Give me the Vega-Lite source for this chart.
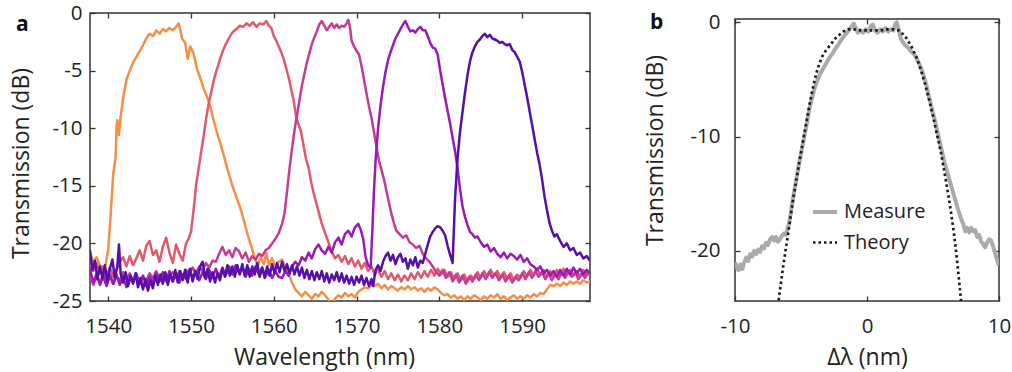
{
"$schema": "https://vega.github.io/schema/vega-lite/v6.json",
"padding": {"left": 10, "top": 2, "right": 0, "bottom": 0},
"background": "white",
"config": {
 "font": "Open Sans",
 "view": {"stroke": "#333333", "strokeWidth": 1.5},
 "axis": {"domain": false, "grid": false, "tickColor": "#333333", "tickWidth": 1.3, "tickSize": -5, "labelFont": "Open Sans", "labelFontSize": 20.5, "labelColor": "#222222", "labelFlush": false, "labelOverlap": false, "titleFont": "Open Sans", "titleFontSize": 23, "titleFontWeight": "normal", "titleColor": "#222222"},
 "title": {"font": "Open Sans", "fontSize": 21, "fontWeight": "bold", "color": "#111111"}
},
"datasets": {
"spec": [
{"s":1,"x":1537.8,"y":-20.8},{"s":1,"x":1538.2,"y":-21.6},{"s":1,"x":1538.6,"y":-21.2},{"s":1,"x":1539.0,"y":-21.9},{"s":1,"x":1539.4,"y":-22.1},{"s":1,"x":1539.7,"y":-21.8},{"s":1,"x":1540.0,"y":-20.5},{"s":1,"x":1540.3,"y":-17.5},{"s":1,"x":1540.6,"y":-14.0},{"s":1,"x":1540.9,"y":-12.5},{"s":1,"x":1541.0,"y":-10.0},{"s":1,"x":1541.1,"y":-9.3},{"s":1,"x":1541.3,"y":-10.6},{"s":1,"x":1541.5,"y":-9.0},{"s":1,"x":1541.8,"y":-7.4},{"s":1,"x":1542.2,"y":-5.8},{"s":1,"x":1542.6,"y":-5.0},{"s":1,"x":1543.0,"y":-4.3},{"s":1,"x":1543.4,"y":-3.8},{"s":1,"x":1543.8,"y":-3.3},{"s":1,"x":1544.2,"y":-2.8},{"s":1,"x":1544.6,"y":-2.2},{"s":1,"x":1545.0,"y":-1.8},{"s":1,"x":1545.4,"y":-2.0},{"s":1,"x":1545.8,"y":-1.5},{"s":1,"x":1546.2,"y":-1.8},{"s":1,"x":1546.6,"y":-1.4},{"s":1,"x":1547.0,"y":-1.6},{"s":1,"x":1547.4,"y":-1.3},{"s":1,"x":1547.8,"y":-1.5},{"s":1,"x":1548.2,"y":-1.2},{"s":1,"x":1548.5,"y":-0.9},{"s":1,"x":1548.7,"y":-1.4},{"s":1,"x":1548.9,"y":-2.2},{"s":1,"x":1549.3,"y":-2.6},{"s":1,"x":1549.6,"y":-4.0},{"s":1,"x":1549.9,"y":-2.9},{"s":1,"x":1550.3,"y":-3.5},{"s":1,"x":1550.7,"y":-4.8},{"s":1,"x":1551.1,"y":-5.6},{"s":1,"x":1551.5,"y":-6.5},{"s":1,"x":1551.9,"y":-7.2},{"s":1,"x":1552.3,"y":-8.0},{"s":1,"x":1552.7,"y":-9.2},{"s":1,"x":1553.1,"y":-10.3},{"s":1,"x":1553.5,"y":-11.2},{"s":1,"x":1553.9,"y":-12.2},{"s":1,"x":1554.3,"y":-13.3},{"s":1,"x":1554.7,"y":-14.3},{"s":1,"x":1555.1,"y":-15.2},{"s":1,"x":1555.5,"y":-16.0},{"s":1,"x":1555.9,"y":-16.8},{"s":1,"x":1556.2,"y":-17.5},{"s":1,"x":1556.6,"y":-18.6},{"s":1,"x":1557.0,"y":-19.6},{"s":1,"x":1557.4,"y":-20.5},{"s":1,"x":1557.8,"y":-21.5},{"s":1,"x":1558.1,"y":-21.9},{"s":1,"x":1558.4,"y":-21.2},{"s":1,"x":1558.8,"y":-21.8},{"s":1,"x":1559.1,"y":-20.8},{"s":1,"x":1559.4,"y":-21.9},{"s":1,"x":1559.8,"y":-21.3},{"s":1,"x":1560.2,"y":-22.0},{"s":1,"x":1560.6,"y":-21.6},{"s":1,"x":1561.0,"y":-21.4},{"s":1,"x":1561.4,"y":-22.1},{"s":1,"x":1561.8,"y":-22.6},{"s":1,"x":1562.2,"y":-23.4},{"s":1,"x":1562.6,"y":-24.0},{"s":1,"x":1563.0,"y":-24.3},{"s":1,"x":1563.4,"y":-24.6},{"s":1,"x":1563.8,"y":-24.2},{"s":1,"x":1564.2,"y":-24.5},{"s":1,"x":1564.6,"y":-24.8},{"s":1,"x":1565.0,"y":-24.4},{"s":1,"x":1565.4,"y":-24.6},{"s":1,"x":1565.8,"y":-24.2},{"s":1,"x":1566.2,"y":-24.5},{"s":1,"x":1566.6,"y":-24.9},{"s":1,"x":1567.0,"y":-25.3},{"s":1,"x":1567.4,"y":-24.8},{"s":1,"x":1567.8,"y":-24.5},{"s":1,"x":1568.2,"y":-24.7},{"s":1,"x":1568.6,"y":-24.3},{"s":1,"x":1569.0,"y":-24.6},{"s":1,"x":1569.4,"y":-24.4},{"s":1,"x":1569.8,"y":-24.7},{"s":1,"x":1570.2,"y":-24.2},{"s":1,"x":1570.6,"y":-24.0},{"s":1,"x":1571.0,"y":-23.8},{"s":1,"x":1571.4,"y":-23.9},{"s":1,"x":1571.8,"y":-23.6},{"s":1,"x":1572.2,"y":-23.7},{"s":1,"x":1572.6,"y":-23.5},{"s":1,"x":1573.0,"y":-23.9},{"s":1,"x":1573.4,"y":-23.6},{"s":1,"x":1573.8,"y":-24.0},{"s":1,"x":1574.2,"y":-23.7},{"s":1,"x":1574.6,"y":-23.9},{"s":1,"x":1575.0,"y":-24.1},{"s":1,"x":1575.4,"y":-23.8},{"s":1,"x":1575.8,"y":-24.0},{"s":1,"x":1576.2,"y":-23.7},{"s":1,"x":1576.6,"y":-24.0},{"s":1,"x":1577.0,"y":-23.8},{"s":1,"x":1577.4,"y":-24.1},{"s":1,"x":1577.8,"y":-23.9},{"s":1,"x":1578.2,"y":-24.2},{"s":1,"x":1578.6,"y":-23.9},{"s":1,"x":1579.0,"y":-24.1},{"s":1,"x":1579.4,"y":-23.8},{"s":1,"x":1579.8,"y":-24.0},{"s":1,"x":1580.2,"y":-24.3},{"s":1,"x":1580.6,"y":-24.5},{"s":1,"x":1581.0,"y":-24.4},{"s":1,"x":1581.4,"y":-24.7},{"s":1,"x":1581.8,"y":-24.5},{"s":1,"x":1582.2,"y":-24.8},{"s":1,"x":1582.6,"y":-24.6},{"s":1,"x":1583.0,"y":-24.9},{"s":1,"x":1583.4,"y":-24.6},{"s":1,"x":1583.8,"y":-24.8},{"s":1,"x":1584.2,"y":-24.5},{"s":1,"x":1584.6,"y":-24.7},{"s":1,"x":1585.0,"y":-24.9},{"s":1,"x":1585.4,"y":-24.6},{"s":1,"x":1585.8,"y":-24.8},{"s":1,"x":1586.2,"y":-24.5},{"s":1,"x":1586.6,"y":-24.7},{"s":1,"x":1587.0,"y":-24.4},{"s":1,"x":1587.4,"y":-24.8},{"s":1,"x":1587.8,"y":-24.6},{"s":1,"x":1588.2,"y":-24.9},{"s":1,"x":1588.6,"y":-24.7},{"s":1,"x":1589.0,"y":-24.5},{"s":1,"x":1589.4,"y":-24.8},{"s":1,"x":1589.8,"y":-24.6},{"s":1,"x":1590.2,"y":-24.8},{"s":1,"x":1590.6,"y":-24.5},{"s":1,"x":1591.0,"y":-24.7},{"s":1,"x":1591.4,"y":-24.4},{"s":1,"x":1591.8,"y":-24.6},{"s":1,"x":1592.2,"y":-24.3},{"s":1,"x":1592.6,"y":-24.4},{"s":1,"x":1593.0,"y":-24.0},{"s":1,"x":1593.4,"y":-23.6},{"s":1,"x":1593.8,"y":-23.7},{"s":1,"x":1594.2,"y":-23.5},{"s":1,"x":1594.6,"y":-23.7},{"s":1,"x":1595.0,"y":-23.4},{"s":1,"x":1595.4,"y":-23.6},{"s":1,"x":1595.8,"y":-23.3},{"s":1,"x":1596.2,"y":-23.5},{"s":1,"x":1596.6,"y":-23.3},{"s":1,"x":1597.0,"y":-23.5},{"s":1,"x":1597.4,"y":-23.2},{"s":1,"x":1597.8,"y":-23.4},{"s":1,"x":1598.2,"y":-23.3},
{"s":2,"x":1537.8,"y":-21.8},{"s":2,"x":1538.2,"y":-22.4},{"s":2,"x":1538.6,"y":-21.7},{"s":2,"x":1539.0,"y":-22.6},{"s":2,"x":1539.4,"y":-22.0},{"s":2,"x":1539.8,"y":-22.8},{"s":2,"x":1540.2,"y":-22.1},{"s":2,"x":1540.6,"y":-22.9},{"s":2,"x":1541.0,"y":-22.3},{"s":2,"x":1541.4,"y":-21.6},{"s":2,"x":1541.8,"y":-21.2},{"s":2,"x":1542.2,"y":-22.0},{"s":2,"x":1542.6,"y":-21.1},{"s":2,"x":1543.0,"y":-21.9},{"s":2,"x":1543.4,"y":-21.3},{"s":2,"x":1543.8,"y":-20.6},{"s":2,"x":1544.2,"y":-21.5},{"s":2,"x":1544.6,"y":-20.2},{"s":2,"x":1545.0,"y":-19.8},{"s":2,"x":1545.4,"y":-21.0},{"s":2,"x":1545.8,"y":-20.6},{"s":2,"x":1546.2,"y":-21.6},{"s":2,"x":1546.6,"y":-20.3},{"s":2,"x":1547.0,"y":-19.5},{"s":2,"x":1547.4,"y":-20.8},{"s":2,"x":1547.8,"y":-21.7},{"s":2,"x":1548.2,"y":-20.1},{"s":2,"x":1548.6,"y":-20.9},{"s":2,"x":1549.0,"y":-21.5},{"s":2,"x":1549.4,"y":-20.0},{"s":2,"x":1549.7,"y":-19.6},{"s":2,"x":1550.0,"y":-19.0},{"s":2,"x":1550.3,"y":-17.2},{"s":2,"x":1550.6,"y":-15.0},{"s":2,"x":1550.9,"y":-13.6},{"s":2,"x":1551.2,"y":-12.2},{"s":2,"x":1551.5,"y":-10.8},{"s":2,"x":1551.8,"y":-9.3},{"s":2,"x":1552.1,"y":-8.0},{"s":2,"x":1552.4,"y":-7.0},{"s":2,"x":1552.7,"y":-6.0},{"s":2,"x":1553.0,"y":-5.2},{"s":2,"x":1553.3,"y":-4.5},{"s":2,"x":1553.6,"y":-3.8},{"s":2,"x":1553.9,"y":-3.2},{"s":2,"x":1554.2,"y":-2.7},{"s":2,"x":1554.5,"y":-2.3},{"s":2,"x":1554.8,"y":-1.9},{"s":2,"x":1555.1,"y":-1.6},{"s":2,"x":1555.5,"y":-1.4},{"s":2,"x":1555.9,"y":-1.1},{"s":2,"x":1556.3,"y":-1.2},{"s":2,"x":1556.7,"y":-0.9},{"s":2,"x":1557.1,"y":-1.1},{"s":2,"x":1557.5,"y":-0.8},{"s":2,"x":1557.9,"y":-1.2},{"s":2,"x":1558.3,"y":-0.9},{"s":2,"x":1558.7,"y":-1.0},{"s":2,"x":1559.1,"y":-0.7},{"s":2,"x":1559.4,"y":-1.1},{"s":2,"x":1559.7,"y":-1.3},{"s":2,"x":1560.0,"y":-2.0},{"s":2,"x":1560.3,"y":-2.4},{"s":2,"x":1560.6,"y":-2.9},{"s":2,"x":1560.9,"y":-3.4},{"s":2,"x":1561.2,"y":-4.0},{"s":2,"x":1561.5,"y":-4.8},{"s":2,"x":1561.8,"y":-5.6},{"s":2,"x":1562.1,"y":-6.6},{"s":2,"x":1562.4,"y":-7.6},{"s":2,"x":1562.7,"y":-9.0},{"s":2,"x":1563.0,"y":-9.7},{"s":2,"x":1563.3,"y":-10.3},{"s":2,"x":1563.6,"y":-11.5},{"s":2,"x":1563.9,"y":-12.7},{"s":2,"x":1564.2,"y":-13.4},{"s":2,"x":1564.5,"y":-14.6},{"s":2,"x":1564.8,"y":-15.6},{"s":2,"x":1565.1,"y":-16.4},{"s":2,"x":1565.4,"y":-17.2},{"s":2,"x":1565.8,"y":-18.3},{"s":2,"x":1566.2,"y":-19.1},{"s":2,"x":1566.6,"y":-19.9},{"s":2,"x":1567.0,"y":-20.7},{"s":2,"x":1567.4,"y":-21.3},{"s":2,"x":1567.8,"y":-21.0},{"s":2,"x":1568.2,"y":-21.6},{"s":2,"x":1568.6,"y":-21.1},{"s":2,"x":1569.0,"y":-21.8},{"s":2,"x":1569.4,"y":-21.3},{"s":2,"x":1569.8,"y":-22.0},{"s":2,"x":1570.2,"y":-21.5},{"s":2,"x":1570.6,"y":-22.2},{"s":2,"x":1571.0,"y":-21.7},{"s":2,"x":1571.4,"y":-22.4},{"s":2,"x":1571.8,"y":-22.0},{"s":2,"x":1572.2,"y":-22.7},{"s":2,"x":1572.6,"y":-22.3},{"s":2,"x":1573.0,"y":-22.9},{"s":2,"x":1573.4,"y":-22.4},{"s":2,"x":1573.8,"y":-23.1},{"s":2,"x":1574.2,"y":-22.6},{"s":2,"x":1574.6,"y":-23.2},{"s":2,"x":1575.0,"y":-22.7},{"s":2,"x":1575.4,"y":-23.3},{"s":2,"x":1575.8,"y":-22.8},{"s":2,"x":1576.2,"y":-23.2},{"s":2,"x":1576.6,"y":-22.6},{"s":2,"x":1577.0,"y":-23.1},{"s":2,"x":1577.4,"y":-22.5},{"s":2,"x":1577.8,"y":-23.0},{"s":2,"x":1578.2,"y":-22.4},{"s":2,"x":1578.6,"y":-22.9},{"s":2,"x":1579.0,"y":-22.3},{"s":2,"x":1579.4,"y":-22.8},{"s":2,"x":1579.8,"y":-22.2},{"s":2,"x":1580.2,"y":-22.7},{"s":2,"x":1580.6,"y":-22.3},{"s":2,"x":1581.0,"y":-22.9},{"s":2,"x":1581.4,"y":-22.5},{"s":2,"x":1581.8,"y":-23.1},{"s":2,"x":1582.2,"y":-22.6},{"s":2,"x":1582.6,"y":-23.2},{"s":2,"x":1583.0,"y":-22.7},{"s":2,"x":1583.4,"y":-23.3},{"s":2,"x":1583.8,"y":-22.8},{"s":2,"x":1584.2,"y":-23.1},{"s":2,"x":1584.6,"y":-22.5},{"s":2,"x":1585.0,"y":-23.0},{"s":2,"x":1585.4,"y":-22.4},{"s":2,"x":1585.8,"y":-22.9},{"s":2,"x":1586.2,"y":-22.3},{"s":2,"x":1586.6,"y":-22.8},{"s":2,"x":1587.0,"y":-22.4},{"s":2,"x":1587.4,"y":-23.0},{"s":2,"x":1587.8,"y":-22.5},{"s":2,"x":1588.2,"y":-23.1},{"s":2,"x":1588.6,"y":-22.6},{"s":2,"x":1589.0,"y":-23.2},{"s":2,"x":1589.4,"y":-22.7},{"s":2,"x":1589.8,"y":-23.0},{"s":2,"x":1590.2,"y":-22.4},{"s":2,"x":1590.6,"y":-22.9},{"s":2,"x":1591.0,"y":-22.3},{"s":2,"x":1591.4,"y":-22.8},{"s":2,"x":1591.8,"y":-22.2},{"s":2,"x":1592.2,"y":-22.7},{"s":2,"x":1592.6,"y":-22.3},{"s":2,"x":1593.0,"y":-22.9},{"s":2,"x":1593.4,"y":-22.4},{"s":2,"x":1593.8,"y":-22.9},{"s":2,"x":1594.2,"y":-22.3},{"s":2,"x":1594.6,"y":-22.8},{"s":2,"x":1595.0,"y":-22.2},{"s":2,"x":1595.4,"y":-22.7},{"s":2,"x":1595.8,"y":-22.3},{"s":2,"x":1596.2,"y":-22.8},{"s":2,"x":1596.6,"y":-22.4},{"s":2,"x":1597.0,"y":-22.9},{"s":2,"x":1597.4,"y":-22.3},{"s":2,"x":1597.8,"y":-22.7},{"s":2,"x":1598.2,"y":-22.4},
{"s":3,"x":1537.8,"y":-22.8},{"s":3,"x":1538.2,"y":-23.6},{"s":3,"x":1538.6,"y":-22.9},{"s":3,"x":1539.0,"y":-23.4},{"s":3,"x":1539.4,"y":-22.6},{"s":3,"x":1539.8,"y":-23.3},{"s":3,"x":1540.2,"y":-22.7},{"s":3,"x":1540.6,"y":-23.5},{"s":3,"x":1541.0,"y":-22.9},{"s":3,"x":1541.4,"y":-23.2},{"s":3,"x":1541.8,"y":-22.5},{"s":3,"x":1542.2,"y":-23.1},{"s":3,"x":1542.6,"y":-22.6},{"s":3,"x":1543.0,"y":-23.3},{"s":3,"x":1543.4,"y":-22.8},{"s":3,"x":1543.8,"y":-23.5},{"s":3,"x":1544.2,"y":-22.9},{"s":3,"x":1544.6,"y":-23.2},{"s":3,"x":1545.0,"y":-22.6},{"s":3,"x":1545.4,"y":-23.0},{"s":3,"x":1545.8,"y":-22.4},{"s":3,"x":1546.2,"y":-23.1},{"s":3,"x":1546.6,"y":-22.7},{"s":3,"x":1547.0,"y":-23.3},{"s":3,"x":1547.4,"y":-22.8},{"s":3,"x":1547.8,"y":-22.5},{"s":3,"x":1548.2,"y":-23.0},{"s":3,"x":1548.6,"y":-22.4},{"s":3,"x":1549.0,"y":-22.9},{"s":3,"x":1549.4,"y":-22.3},{"s":3,"x":1549.8,"y":-22.7},{"s":3,"x":1550.2,"y":-22.1},{"s":3,"x":1550.6,"y":-22.6},{"s":3,"x":1551.0,"y":-22.0},{"s":3,"x":1551.4,"y":-22.4},{"s":3,"x":1551.8,"y":-21.7},{"s":3,"x":1552.2,"y":-22.1},{"s":3,"x":1552.6,"y":-21.5},{"s":3,"x":1553.0,"y":-21.6},{"s":3,"x":1553.4,"y":-20.9},{"s":3,"x":1553.8,"y":-20.3},{"s":3,"x":1554.2,"y":-21.0},{"s":3,"x":1554.6,"y":-20.6},{"s":3,"x":1555.0,"y":-21.2},{"s":3,"x":1555.4,"y":-20.4},{"s":3,"x":1555.8,"y":-20.7},{"s":3,"x":1556.2,"y":-21.3},{"s":3,"x":1556.6,"y":-20.8},{"s":3,"x":1557.0,"y":-21.6},{"s":3,"x":1557.4,"y":-21.1},{"s":3,"x":1557.8,"y":-21.4},{"s":3,"x":1558.2,"y":-20.9},{"s":3,"x":1558.6,"y":-21.1},{"s":3,"x":1559.0,"y":-20.6},{"s":3,"x":1559.4,"y":-20.4},{"s":3,"x":1559.8,"y":-20.0},{"s":3,"x":1560.2,"y":-19.6},{"s":3,"x":1560.6,"y":-19.1},{"s":3,"x":1561.0,"y":-18.3},{"s":3,"x":1561.3,"y":-17.4},{"s":3,"x":1561.6,"y":-15.5},{"s":3,"x":1561.9,"y":-13.5},{"s":3,"x":1562.2,"y":-11.8},{"s":3,"x":1562.5,"y":-10.2},{"s":3,"x":1562.8,"y":-8.9},{"s":3,"x":1563.1,"y":-7.6},{"s":3,"x":1563.4,"y":-6.3},{"s":3,"x":1563.7,"y":-5.3},{"s":3,"x":1564.0,"y":-4.3},{"s":3,"x":1564.3,"y":-3.5},{"s":3,"x":1564.6,"y":-2.7},{"s":3,"x":1564.9,"y":-2.1},{"s":3,"x":1565.2,"y":-1.6},{"s":3,"x":1565.5,"y":-1.0},{"s":3,"x":1565.8,"y":-0.7},{"s":3,"x":1566.1,"y":-1.1},{"s":3,"x":1566.4,"y":-1.5},{"s":3,"x":1566.7,"y":-1.2},{"s":3,"x":1567.0,"y":-0.9},{"s":3,"x":1567.3,"y":-1.3},{"s":3,"x":1567.6,"y":-1.0},{"s":3,"x":1567.9,"y":-1.3},{"s":3,"x":1568.2,"y":-1.1},{"s":3,"x":1568.5,"y":-1.2},{"s":3,"x":1568.8,"y":-0.9},{"s":3,"x":1569.0,"y":-0.6},{"s":3,"x":1569.2,"y":-1.2},{"s":3,"x":1569.4,"y":-2.4},{"s":3,"x":1569.7,"y":-2.9},{"s":3,"x":1570.0,"y":-3.3},{"s":3,"x":1570.3,"y":-3.6},{"s":3,"x":1570.6,"y":-4.6},{"s":3,"x":1570.9,"y":-5.8},{"s":3,"x":1571.2,"y":-7.0},{"s":3,"x":1571.5,"y":-8.1},{"s":3,"x":1571.8,"y":-9.1},{"s":3,"x":1572.1,"y":-10.3},{"s":3,"x":1572.4,"y":-11.6},{"s":3,"x":1572.7,"y":-12.8},{"s":3,"x":1573.0,"y":-13.6},{"s":3,"x":1573.3,"y":-14.4},{"s":3,"x":1573.6,"y":-15.4},{"s":3,"x":1573.9,"y":-16.4},{"s":3,"x":1574.2,"y":-17.4},{"s":3,"x":1574.5,"y":-18.2},{"s":3,"x":1574.8,"y":-18.9},{"s":3,"x":1575.2,"y":-19.2},{"s":3,"x":1575.6,"y":-19.5},{"s":3,"x":1576.0,"y":-19.3},{"s":3,"x":1576.4,"y":-19.9},{"s":3,"x":1576.8,"y":-20.1},{"s":3,"x":1577.2,"y":-20.4},{"s":3,"x":1577.6,"y":-20.2},{"s":3,"x":1578.0,"y":-20.9},{"s":3,"x":1578.4,"y":-21.3},{"s":3,"x":1578.8,"y":-21.6},{"s":3,"x":1579.2,"y":-22.0},{"s":3,"x":1579.6,"y":-22.5},{"s":3,"x":1580.0,"y":-22.8},{"s":3,"x":1580.4,"y":-22.3},{"s":3,"x":1580.8,"y":-23.0},{"s":3,"x":1581.2,"y":-22.5},{"s":3,"x":1581.6,"y":-23.3},{"s":3,"x":1582.0,"y":-22.7},{"s":3,"x":1582.4,"y":-23.4},{"s":3,"x":1582.8,"y":-22.8},{"s":3,"x":1583.2,"y":-23.5},{"s":3,"x":1583.6,"y":-22.9},{"s":3,"x":1584.0,"y":-23.3},{"s":3,"x":1584.4,"y":-22.7},{"s":3,"x":1584.8,"y":-23.2},{"s":3,"x":1585.2,"y":-22.6},{"s":3,"x":1585.6,"y":-23.1},{"s":3,"x":1586.0,"y":-22.5},{"s":3,"x":1586.4,"y":-23.0},{"s":3,"x":1586.8,"y":-22.6},{"s":3,"x":1587.2,"y":-23.2},{"s":3,"x":1587.6,"y":-22.7},{"s":3,"x":1588.0,"y":-23.3},{"s":3,"x":1588.4,"y":-22.8},{"s":3,"x":1588.8,"y":-23.4},{"s":3,"x":1589.2,"y":-22.9},{"s":3,"x":1589.6,"y":-23.2},{"s":3,"x":1590.0,"y":-22.6},{"s":3,"x":1590.4,"y":-23.1},{"s":3,"x":1590.8,"y":-22.5},{"s":3,"x":1591.2,"y":-23.0},{"s":3,"x":1591.6,"y":-22.4},{"s":3,"x":1592.0,"y":-22.9},{"s":3,"x":1592.4,"y":-22.5},{"s":3,"x":1592.8,"y":-23.1},{"s":3,"x":1593.2,"y":-22.6},{"s":3,"x":1593.6,"y":-23.2},{"s":3,"x":1594.0,"y":-22.7},{"s":3,"x":1594.4,"y":-23.1},{"s":3,"x":1594.8,"y":-22.5},{"s":3,"x":1595.2,"y":-23.0},{"s":3,"x":1595.6,"y":-22.4},{"s":3,"x":1596.0,"y":-22.9},{"s":3,"x":1596.4,"y":-22.5},{"s":3,"x":1596.8,"y":-23.1},{"s":3,"x":1597.2,"y":-22.6},{"s":3,"x":1597.6,"y":-23.0},{"s":3,"x":1598.0,"y":-22.5},{"s":3,"x":1598.2,"y":-22.8},
{"s":4,"x":1537.8,"y":-22.2},{"s":4,"x":1538.2,"y":-23.4},{"s":4,"x":1538.6,"y":-22.6},{"s":4,"x":1539.0,"y":-23.6},{"s":4,"x":1539.4,"y":-22.9},{"s":4,"x":1539.8,"y":-23.7},{"s":4,"x":1540.2,"y":-22.8},{"s":4,"x":1540.6,"y":-23.5},{"s":4,"x":1541.0,"y":-22.7},{"s":4,"x":1541.4,"y":-23.6},{"s":4,"x":1541.8,"y":-22.9},{"s":4,"x":1542.2,"y":-23.8},{"s":4,"x":1542.6,"y":-23.0},{"s":4,"x":1543.0,"y":-23.4},{"s":4,"x":1543.4,"y":-22.6},{"s":4,"x":1543.8,"y":-23.5},{"s":4,"x":1544.2,"y":-22.8},{"s":4,"x":1544.6,"y":-23.7},{"s":4,"x":1545.0,"y":-22.9},{"s":4,"x":1545.4,"y":-23.4},{"s":4,"x":1545.8,"y":-22.6},{"s":4,"x":1546.2,"y":-23.3},{"s":4,"x":1546.6,"y":-22.5},{"s":4,"x":1547.0,"y":-23.2},{"s":4,"x":1547.4,"y":-22.4},{"s":4,"x":1547.8,"y":-23.3},{"s":4,"x":1548.2,"y":-22.6},{"s":4,"x":1548.6,"y":-23.4},{"s":4,"x":1549.0,"y":-22.7},{"s":4,"x":1549.4,"y":-23.1},{"s":4,"x":1549.8,"y":-22.3},{"s":4,"x":1550.2,"y":-23.0},{"s":4,"x":1550.6,"y":-22.4},{"s":4,"x":1551.0,"y":-23.2},{"s":4,"x":1551.4,"y":-22.5},{"s":4,"x":1551.8,"y":-23.1},{"s":4,"x":1552.2,"y":-22.3},{"s":4,"x":1552.6,"y":-23.0},{"s":4,"x":1553.0,"y":-22.2},{"s":4,"x":1553.4,"y":-22.9},{"s":4,"x":1553.8,"y":-22.1},{"s":4,"x":1554.2,"y":-22.8},{"s":4,"x":1554.6,"y":-22.0},{"s":4,"x":1555.0,"y":-22.7},{"s":4,"x":1555.4,"y":-21.9},{"s":4,"x":1555.8,"y":-22.6},{"s":4,"x":1556.2,"y":-22.1},{"s":4,"x":1556.6,"y":-22.9},{"s":4,"x":1557.0,"y":-22.2},{"s":4,"x":1557.4,"y":-22.8},{"s":4,"x":1557.8,"y":-22.0},{"s":4,"x":1558.2,"y":-22.7},{"s":4,"x":1558.6,"y":-22.1},{"s":4,"x":1559.0,"y":-22.9},{"s":4,"x":1559.4,"y":-22.3},{"s":4,"x":1559.8,"y":-23.0},{"s":4,"x":1560.2,"y":-22.4},{"s":4,"x":1560.6,"y":-22.9},{"s":4,"x":1561.0,"y":-23.0},{"s":4,"x":1561.4,"y":-22.4},{"s":4,"x":1561.8,"y":-22.8},{"s":4,"x":1562.2,"y":-22.0},{"s":4,"x":1562.6,"y":-21.6},{"s":4,"x":1563.0,"y":-21.9},{"s":4,"x":1563.4,"y":-21.2},{"s":4,"x":1563.8,"y":-21.5},{"s":4,"x":1564.2,"y":-20.8},{"s":4,"x":1564.6,"y":-21.3},{"s":4,"x":1565.0,"y":-20.5},{"s":4,"x":1565.4,"y":-20.1},{"s":4,"x":1565.8,"y":-20.6},{"s":4,"x":1566.2,"y":-20.9},{"s":4,"x":1566.6,"y":-20.3},{"s":4,"x":1567.0,"y":-20.8},{"s":4,"x":1567.4,"y":-19.9},{"s":4,"x":1567.8,"y":-19.5},{"s":4,"x":1568.2,"y":-20.1},{"s":4,"x":1568.6,"y":-19.2},{"s":4,"x":1569.0,"y":-18.9},{"s":4,"x":1569.4,"y":-19.4},{"s":4,"x":1569.8,"y":-18.6},{"s":4,"x":1570.2,"y":-18.3},{"s":4,"x":1570.5,"y":-18.8},{"s":4,"x":1570.8,"y":-19.6},{"s":4,"x":1571.1,"y":-21.2},{"s":4,"x":1571.4,"y":-21.9},{"s":4,"x":1571.7,"y":-22.1},{"s":4,"x":1571.9,"y":-19.0},{"s":4,"x":1572.1,"y":-15.5},{"s":4,"x":1572.3,"y":-12.8},{"s":4,"x":1572.6,"y":-10.0},{"s":4,"x":1572.9,"y":-8.0},{"s":4,"x":1573.2,"y":-6.4},{"s":4,"x":1573.5,"y":-5.1},{"s":4,"x":1573.8,"y":-4.1},{"s":4,"x":1574.1,"y":-3.4},{"s":4,"x":1574.4,"y":-2.8},{"s":4,"x":1574.7,"y":-2.2},{"s":4,"x":1575.0,"y":-1.8},{"s":4,"x":1575.3,"y":-1.4},{"s":4,"x":1575.6,"y":-1.0},{"s":4,"x":1575.9,"y":-0.7},{"s":4,"x":1576.2,"y":-1.2},{"s":4,"x":1576.5,"y":-1.6},{"s":4,"x":1576.8,"y":-1.5},{"s":4,"x":1577.1,"y":-1.7},{"s":4,"x":1577.4,"y":-1.4},{"s":4,"x":1577.7,"y":-1.2},{"s":4,"x":1578.0,"y":-1.5},{"s":4,"x":1578.3,"y":-1.5},{"s":4,"x":1578.6,"y":-2.0},{"s":4,"x":1578.9,"y":-2.6},{"s":4,"x":1579.2,"y":-3.0},{"s":4,"x":1579.5,"y":-3.1},{"s":4,"x":1579.8,"y":-3.6},{"s":4,"x":1580.1,"y":-5.0},{"s":4,"x":1580.4,"y":-6.2},{"s":4,"x":1580.7,"y":-7.4},{"s":4,"x":1581.0,"y":-8.5},{"s":4,"x":1581.3,"y":-9.6},{"s":4,"x":1581.6,"y":-10.8},{"s":4,"x":1581.9,"y":-12.0},{"s":4,"x":1582.2,"y":-13.5},{"s":4,"x":1582.5,"y":-15.3},{"s":4,"x":1582.8,"y":-16.8},{"s":4,"x":1583.1,"y":-17.7},{"s":4,"x":1583.4,"y":-18.4},{"s":4,"x":1583.7,"y":-19.0},{"s":4,"x":1584.0,"y":-19.2},{"s":4,"x":1584.3,"y":-19.5},{"s":4,"x":1584.6,"y":-19.4},{"s":4,"x":1585.0,"y":-19.9},{"s":4,"x":1585.4,"y":-20.3},{"s":4,"x":1585.8,"y":-20.1},{"s":4,"x":1586.2,"y":-20.7},{"s":4,"x":1586.6,"y":-20.4},{"s":4,"x":1587.0,"y":-20.9},{"s":4,"x":1587.4,"y":-21.2},{"s":4,"x":1587.8,"y":-20.8},{"s":4,"x":1588.2,"y":-21.3},{"s":4,"x":1588.6,"y":-20.9},{"s":4,"x":1589.0,"y":-21.1},{"s":4,"x":1589.4,"y":-21.4},{"s":4,"x":1589.8,"y":-21.0},{"s":4,"x":1590.2,"y":-21.6},{"s":4,"x":1590.6,"y":-21.3},{"s":4,"x":1591.0,"y":-21.8},{"s":4,"x":1591.4,"y":-22.0},{"s":4,"x":1591.8,"y":-22.3},{"s":4,"x":1592.2,"y":-22.0},{"s":4,"x":1592.6,"y":-22.6},{"s":4,"x":1593.0,"y":-22.3},{"s":4,"x":1593.4,"y":-22.8},{"s":4,"x":1593.8,"y":-22.4},{"s":4,"x":1594.2,"y":-22.9},{"s":4,"x":1594.6,"y":-22.3},{"s":4,"x":1595.0,"y":-22.8},{"s":4,"x":1595.4,"y":-22.2},{"s":4,"x":1595.8,"y":-22.7},{"s":4,"x":1596.2,"y":-22.1},{"s":4,"x":1596.6,"y":-22.6},{"s":4,"x":1597.0,"y":-22.2},{"s":4,"x":1597.4,"y":-22.7},{"s":4,"x":1597.8,"y":-22.3},{"s":4,"x":1598.2,"y":-22.6},
{"s":5,"x":1537.8,"y":-20.6},{"s":5,"x":1538.1,"y":-22.3},{"s":5,"x":1538.4,"y":-21.5},{"s":5,"x":1538.7,"y":-23.1},{"s":5,"x":1539.0,"y":-22.0},{"s":5,"x":1539.3,"y":-23.0},{"s":5,"x":1539.6,"y":-21.9},{"s":5,"x":1539.9,"y":-23.3},{"s":5,"x":1540.2,"y":-22.2},{"s":5,"x":1540.5,"y":-21.4},{"s":5,"x":1540.8,"y":-23.0},{"s":5,"x":1541.1,"y":-22.0},{"s":5,"x":1541.3,"y":-20.1},{"s":5,"x":1541.5,"y":-22.6},{"s":5,"x":1541.8,"y":-23.4},{"s":5,"x":1542.1,"y":-22.5},{"s":5,"x":1542.4,"y":-23.7},{"s":5,"x":1542.7,"y":-22.8},{"s":5,"x":1543.0,"y":-23.5},{"s":5,"x":1543.3,"y":-22.6},{"s":5,"x":1543.6,"y":-23.8},{"s":5,"x":1543.9,"y":-23.0},{"s":5,"x":1544.2,"y":-24.0},{"s":5,"x":1544.5,"y":-23.1},{"s":5,"x":1544.8,"y":-24.1},{"s":5,"x":1545.1,"y":-23.2},{"s":5,"x":1545.4,"y":-23.9},{"s":5,"x":1545.7,"y":-22.8},{"s":5,"x":1546.0,"y":-23.6},{"s":5,"x":1546.3,"y":-22.7},{"s":5,"x":1546.6,"y":-23.5},{"s":5,"x":1546.9,"y":-22.5},{"s":5,"x":1547.2,"y":-23.6},{"s":5,"x":1547.5,"y":-22.7},{"s":5,"x":1547.8,"y":-23.3},{"s":5,"x":1548.1,"y":-22.3},{"s":5,"x":1548.4,"y":-23.4},{"s":5,"x":1548.7,"y":-22.4},{"s":5,"x":1549.0,"y":-23.2},{"s":5,"x":1549.3,"y":-22.3},{"s":5,"x":1549.6,"y":-23.4},{"s":5,"x":1549.9,"y":-22.2},{"s":5,"x":1550.2,"y":-23.3},{"s":5,"x":1550.5,"y":-22.4},{"s":5,"x":1550.8,"y":-23.1},{"s":5,"x":1551.1,"y":-22.0},{"s":5,"x":1551.4,"y":-21.6},{"s":5,"x":1551.7,"y":-23.0},{"s":5,"x":1552.0,"y":-22.2},{"s":5,"x":1552.3,"y":-23.3},{"s":5,"x":1552.6,"y":-22.5},{"s":5,"x":1552.9,"y":-23.4},{"s":5,"x":1553.2,"y":-22.6},{"s":5,"x":1553.5,"y":-23.2},{"s":5,"x":1553.8,"y":-22.2},{"s":5,"x":1554.1,"y":-22.9},{"s":5,"x":1554.4,"y":-21.9},{"s":5,"x":1554.7,"y":-22.8},{"s":5,"x":1555.0,"y":-22.0},{"s":5,"x":1555.3,"y":-22.9},{"s":5,"x":1555.6,"y":-21.9},{"s":5,"x":1555.9,"y":-22.7},{"s":5,"x":1556.2,"y":-21.8},{"s":5,"x":1556.5,"y":-22.8},{"s":5,"x":1556.8,"y":-21.9},{"s":5,"x":1557.1,"y":-22.9},{"s":5,"x":1557.4,"y":-22.0},{"s":5,"x":1557.7,"y":-22.7},{"s":5,"x":1558.0,"y":-21.7},{"s":5,"x":1558.3,"y":-22.9},{"s":5,"x":1558.6,"y":-22.1},{"s":5,"x":1558.9,"y":-23.0},{"s":5,"x":1559.2,"y":-22.0},{"s":5,"x":1559.5,"y":-22.8},{"s":5,"x":1559.8,"y":-21.8},{"s":5,"x":1560.1,"y":-22.6},{"s":5,"x":1560.4,"y":-21.7},{"s":5,"x":1560.7,"y":-22.5},{"s":5,"x":1561.0,"y":-21.6},{"s":5,"x":1561.3,"y":-22.4},{"s":5,"x":1561.6,"y":-21.8},{"s":5,"x":1561.9,"y":-22.6},{"s":5,"x":1562.2,"y":-21.9},{"s":5,"x":1562.5,"y":-22.7},{"s":5,"x":1562.8,"y":-22.0},{"s":5,"x":1563.1,"y":-22.8},{"s":5,"x":1563.4,"y":-22.1},{"s":5,"x":1563.7,"y":-23.0},{"s":5,"x":1564.0,"y":-22.3},{"s":5,"x":1564.3,"y":-23.1},{"s":5,"x":1564.6,"y":-22.4},{"s":5,"x":1564.9,"y":-23.2},{"s":5,"x":1565.2,"y":-22.5},{"s":5,"x":1565.5,"y":-23.1},{"s":5,"x":1565.8,"y":-22.4},{"s":5,"x":1566.1,"y":-23.3},{"s":5,"x":1566.4,"y":-22.6},{"s":5,"x":1566.7,"y":-23.4},{"s":5,"x":1567.0,"y":-22.7},{"s":5,"x":1567.3,"y":-23.2},{"s":5,"x":1567.6,"y":-22.5},{"s":5,"x":1567.9,"y":-23.3},{"s":5,"x":1568.2,"y":-22.6},{"s":5,"x":1568.5,"y":-23.4},{"s":5,"x":1568.8,"y":-22.8},{"s":5,"x":1569.1,"y":-23.5},{"s":5,"x":1569.4,"y":-22.9},{"s":5,"x":1569.7,"y":-23.6},{"s":5,"x":1570.0,"y":-22.9},{"s":5,"x":1570.3,"y":-23.4},{"s":5,"x":1570.6,"y":-22.8},{"s":5,"x":1570.9,"y":-23.6},{"s":5,"x":1571.2,"y":-23.0},{"s":5,"x":1571.5,"y":-23.7},{"s":5,"x":1571.8,"y":-23.1},{"s":5,"x":1572.0,"y":-23.7},{"s":5,"x":1572.3,"y":-22.3},{"s":5,"x":1572.6,"y":-21.9},{"s":5,"x":1572.9,"y":-22.4},{"s":5,"x":1573.2,"y":-21.6},{"s":5,"x":1573.5,"y":-21.1},{"s":5,"x":1573.8,"y":-20.8},{"s":5,"x":1574.1,"y":-21.5},{"s":5,"x":1574.4,"y":-21.0},{"s":5,"x":1574.7,"y":-21.8},{"s":5,"x":1575.0,"y":-21.2},{"s":5,"x":1575.3,"y":-20.9},{"s":5,"x":1575.6,"y":-21.6},{"s":5,"x":1575.9,"y":-21.3},{"s":5,"x":1576.2,"y":-22.2},{"s":5,"x":1576.5,"y":-21.4},{"s":5,"x":1576.8,"y":-21.9},{"s":5,"x":1577.1,"y":-21.2},{"s":5,"x":1577.4,"y":-22.1},{"s":5,"x":1577.7,"y":-21.5},{"s":5,"x":1578.0,"y":-21.7},{"s":5,"x":1578.3,"y":-20.9},{"s":5,"x":1578.6,"y":-20.1},{"s":5,"x":1578.9,"y":-19.4},{"s":5,"x":1579.2,"y":-19.0},{"s":5,"x":1579.5,"y":-18.7},{"s":5,"x":1579.8,"y":-18.5},{"s":5,"x":1580.1,"y":-18.6},{"s":5,"x":1580.4,"y":-18.9},{"s":5,"x":1580.7,"y":-19.3},{"s":5,"x":1581.0,"y":-20.2},{"s":5,"x":1581.3,"y":-21.0},{"s":5,"x":1581.6,"y":-21.7},{"s":5,"x":1581.9,"y":-16.1},{"s":5,"x":1582.2,"y":-12.6},{"s":5,"x":1582.5,"y":-10.3},{"s":5,"x":1582.8,"y":-8.6},{"s":5,"x":1583.1,"y":-6.9},{"s":5,"x":1583.4,"y":-5.4},{"s":5,"x":1583.7,"y":-4.2},{"s":5,"x":1584.0,"y":-3.4},{"s":5,"x":1584.3,"y":-2.9},{"s":5,"x":1584.6,"y":-2.5},{"s":5,"x":1584.9,"y":-2.3},{"s":5,"x":1585.2,"y":-2.0},{"s":5,"x":1585.5,"y":-1.8},{"s":5,"x":1585.8,"y":-2.1},{"s":5,"x":1586.1,"y":-1.9},{"s":5,"x":1586.4,"y":-2.2},{"s":5,"x":1586.7,"y":-2.3},{"s":5,"x":1587.0,"y":-2.4},{"s":5,"x":1587.3,"y":-2.6},{"s":5,"x":1587.6,"y":-2.5},{"s":5,"x":1587.9,"y":-2.7},{"s":5,"x":1588.2,"y":-2.8},{"s":5,"x":1588.5,"y":-2.7},{"s":5,"x":1588.8,"y":-3.2},{"s":5,"x":1589.1,"y":-3.4},{"s":5,"x":1589.4,"y":-3.8},{"s":5,"x":1589.7,"y":-4.2},{"s":5,"x":1590.0,"y":-5.1},{"s":5,"x":1590.3,"y":-6.2},{"s":5,"x":1590.6,"y":-7.3},{"s":5,"x":1590.9,"y":-8.5},{"s":5,"x":1591.2,"y":-9.7},{"s":5,"x":1591.5,"y":-10.9},{"s":5,"x":1591.8,"y":-12.1},{"s":5,"x":1592.1,"y":-13.1},{"s":5,"x":1592.4,"y":-14.4},{"s":5,"x":1592.7,"y":-15.9},{"s":5,"x":1593.0,"y":-17.1},{"s":5,"x":1593.3,"y":-18.2},{"s":5,"x":1593.6,"y":-18.9},{"s":5,"x":1593.9,"y":-19.4},{"s":5,"x":1594.2,"y":-19.2},{"s":5,"x":1594.6,"y":-19.8},{"s":5,"x":1595.0,"y":-20.3},{"s":5,"x":1595.4,"y":-20.0},{"s":5,"x":1595.8,"y":-20.6},{"s":5,"x":1596.2,"y":-20.4},{"s":5,"x":1596.6,"y":-21.0},{"s":5,"x":1597.0,"y":-20.8},{"s":5,"x":1597.4,"y":-21.3},{"s":5,"x":1597.8,"y":-21.1},{"s":5,"x":1598.2,"y":-21.5}
],
"flt": [
{"k":"Measure","d":-10,"t":-21.0},{"k":"Measure","d":-9.85,"t":-21.5},{"k":"Measure","d":-9.73,"t":-21.7},{"k":"Measure","d":-9.6,"t":-21.2},{"k":"Measure","d":-9.45,"t":-21.6},{"k":"Measure","d":-9.3,"t":-21.0},{"k":"Measure","d":-9.15,"t":-20.6},{"k":"Measure","d":-9.0,"t":-20.9},{"k":"Measure","d":-8.85,"t":-20.3},{"k":"Measure","d":-8.7,"t":-20.5},{"k":"Measure","d":-8.55,"t":-20.0},{"k":"Measure","d":-8.4,"t":-20.3},{"k":"Measure","d":-8.25,"t":-19.9},{"k":"Measure","d":-8.1,"t":-20.1},{"k":"Measure","d":-7.95,"t":-19.6},{"k":"Measure","d":-7.8,"t":-19.8},{"k":"Measure","d":-7.65,"t":-19.3},{"k":"Measure","d":-7.5,"t":-19.5},{"k":"Measure","d":-7.35,"t":-19.0},{"k":"Measure","d":-7.2,"t":-18.8},{"k":"Measure","d":-7.05,"t":-19.1},{"k":"Measure","d":-6.9,"t":-18.8},{"k":"Measure","d":-6.75,"t":-19.2},{"k":"Measure","d":-6.6,"t":-19.0},{"k":"Measure","d":-6.45,"t":-18.7},{"k":"Measure","d":-6.3,"t":-18.5},{"k":"Measure","d":-6.15,"t":-18.6},{"k":"Measure","d":-6.0,"t":-18.0},{"k":"Measure","d":-5.9,"t":-17.6},{"k":"Measure","d":-5.75,"t":-16.5},{"k":"Measure","d":-5.6,"t":-15.4},{"k":"Measure","d":-5.45,"t":-14.4},{"k":"Measure","d":-5.3,"t":-13.4},{"k":"Measure","d":-5.15,"t":-12.4},{"k":"Measure","d":-5.0,"t":-11.5},{"k":"Measure","d":-4.85,"t":-10.6},{"k":"Measure","d":-4.7,"t":-9.7},{"k":"Measure","d":-4.55,"t":-8.8},{"k":"Measure","d":-4.4,"t":-7.8},{"k":"Measure","d":-4.25,"t":-7.0},{"k":"Measure","d":-4.1,"t":-6.3},{"k":"Measure","d":-3.95,"t":-5.7},{"k":"Measure","d":-3.8,"t":-5.2},{"k":"Measure","d":-3.6,"t":-4.6},{"k":"Measure","d":-3.4,"t":-4.2},{"k":"Measure","d":-3.2,"t":-3.8},{"k":"Measure","d":-3.0,"t":-3.4},{"k":"Measure","d":-2.8,"t":-3.0},{"k":"Measure","d":-2.6,"t":-2.7},{"k":"Measure","d":-2.4,"t":-2.3},{"k":"Measure","d":-2.2,"t":-2.0},{"k":"Measure","d":-2.0,"t":-1.6},{"k":"Measure","d":-1.8,"t":-1.3},{"k":"Measure","d":-1.6,"t":-1.0},{"k":"Measure","d":-1.4,"t":-0.7},{"k":"Measure","d":-1.2,"t":-0.4},{"k":"Measure","d":-1.0,"t":-0.1},{"k":"Measure","d":-0.85,"t":-0.5},{"k":"Measure","d":-0.7,"t":-0.9},{"k":"Measure","d":-0.5,"t":-0.7},{"k":"Measure","d":-0.3,"t":-0.9},{"k":"Measure","d":-0.1,"t":-0.6},{"k":"Measure","d":0.1,"t":-0.8},{"k":"Measure","d":0.3,"t":-0.3},{"k":"Measure","d":0.45,"t":-0.2},{"k":"Measure","d":0.6,"t":-0.7},{"k":"Measure","d":0.8,"t":-0.9},{"k":"Measure","d":1.0,"t":-0.6},{"k":"Measure","d":1.2,"t":-0.8},{"k":"Measure","d":1.4,"t":-0.5},{"k":"Measure","d":1.6,"t":-0.8},{"k":"Measure","d":1.8,"t":-0.6},{"k":"Measure","d":2.0,"t":-0.7},{"k":"Measure","d":2.15,"t":-0.1},{"k":"Measure","d":2.25,"t":0.0},{"k":"Measure","d":2.4,"t":-0.6},{"k":"Measure","d":2.55,"t":-1.4},{"k":"Measure","d":2.7,"t":-1.7},{"k":"Measure","d":2.9,"t":-2.0},{"k":"Measure","d":3.1,"t":-2.2},{"k":"Measure","d":3.3,"t":-2.5},{"k":"Measure","d":3.5,"t":-2.7},{"k":"Measure","d":3.7,"t":-3.0},{"k":"Measure","d":3.9,"t":-3.5},{"k":"Measure","d":4.1,"t":-4.0},{"k":"Measure","d":4.3,"t":-4.7},{"k":"Measure","d":4.5,"t":-5.5},{"k":"Measure","d":4.7,"t":-6.5},{"k":"Measure","d":4.9,"t":-7.5},{"k":"Measure","d":5.1,"t":-8.4},{"k":"Measure","d":5.3,"t":-9.4},{"k":"Measure","d":5.5,"t":-10.4},{"k":"Measure","d":5.7,"t":-11.4},{"k":"Measure","d":5.9,"t":-12.4},{"k":"Measure","d":6.1,"t":-13.2},{"k":"Measure","d":6.3,"t":-14.0},{"k":"Measure","d":6.5,"t":-14.8},{"k":"Measure","d":6.7,"t":-15.6},{"k":"Measure","d":6.9,"t":-16.4},{"k":"Measure","d":7.1,"t":-17.1},{"k":"Measure","d":7.3,"t":-17.7},{"k":"Measure","d":7.45,"t":-18.3},{"k":"Measure","d":7.6,"t":-18.0},{"k":"Measure","d":7.75,"t":-18.4},{"k":"Measure","d":7.9,"t":-18.0},{"k":"Measure","d":8.05,"t":-18.3},{"k":"Measure","d":8.2,"t":-18.2},{"k":"Measure","d":8.35,"t":-18.8},{"k":"Measure","d":8.5,"t":-18.6},{"k":"Measure","d":8.65,"t":-19.2},{"k":"Measure","d":8.8,"t":-19.4},{"k":"Measure","d":8.95,"t":-19.7},{"k":"Measure","d":9.1,"t":-19.3},{"k":"Measure","d":9.25,"t":-19.0},{"k":"Measure","d":9.4,"t":-19.1},{"k":"Measure","d":9.55,"t":-19.6},{"k":"Measure","d":9.7,"t":-20.2},{"k":"Measure","d":9.85,"t":-20.8},{"k":"Measure","d":10,"t":-21.3},
{"k":"Theory","d":-6.8,"t":-25.3},{"k":"Theory","d":-6.6,"t":-23.5},{"k":"Theory","d":-6.4,"t":-21.8},{"k":"Theory","d":-6.2,"t":-20.2},{"k":"Theory","d":-6.0,"t":-18.7},{"k":"Theory","d":-5.8,"t":-17.1},{"k":"Theory","d":-5.6,"t":-15.5},{"k":"Theory","d":-5.4,"t":-14.1},{"k":"Theory","d":-5.2,"t":-12.7},{"k":"Theory","d":-5.0,"t":-11.4},{"k":"Theory","d":-4.8,"t":-10.1},{"k":"Theory","d":-4.6,"t":-8.8},{"k":"Theory","d":-4.4,"t":-7.5},{"k":"Theory","d":-4.2,"t":-6.3},{"k":"Theory","d":-4.0,"t":-5.2},{"k":"Theory","d":-3.8,"t":-4.3},{"k":"Theory","d":-3.6,"t":-3.6},{"k":"Theory","d":-3.4,"t":-3.0},{"k":"Theory","d":-3.2,"t":-2.6},{"k":"Theory","d":-3.0,"t":-2.3},{"k":"Theory","d":-2.8,"t":-2.0},{"k":"Theory","d":-2.6,"t":-1.7},{"k":"Theory","d":-2.4,"t":-1.4},{"k":"Theory","d":-2.2,"t":-1.2},{"k":"Theory","d":-2.0,"t":-1.0},{"k":"Theory","d":-1.8,"t":-0.8},{"k":"Theory","d":-1.6,"t":-0.7},{"k":"Theory","d":-1.4,"t":-0.6},{"k":"Theory","d":-1.2,"t":-0.6},{"k":"Theory","d":-1.0,"t":-0.6},{"k":"Theory","d":-0.5,"t":-0.7},{"k":"Theory","d":0,"t":-0.7},{"k":"Theory","d":0.5,"t":-0.7},{"k":"Theory","d":1.0,"t":-0.7},{"k":"Theory","d":1.5,"t":-0.6},{"k":"Theory","d":2.0,"t":-0.6},{"k":"Theory","d":2.4,"t":-0.7},{"k":"Theory","d":2.7,"t":-1.0},{"k":"Theory","d":3.0,"t":-1.4},{"k":"Theory","d":3.2,"t":-1.8},{"k":"Theory","d":3.4,"t":-2.2},{"k":"Theory","d":3.6,"t":-2.7},{"k":"Theory","d":3.8,"t":-3.2},{"k":"Theory","d":4.0,"t":-3.9},{"k":"Theory","d":4.2,"t":-4.6},{"k":"Theory","d":4.4,"t":-5.4},{"k":"Theory","d":4.6,"t":-6.3},{"k":"Theory","d":4.8,"t":-7.2},{"k":"Theory","d":5.0,"t":-8.2},{"k":"Theory","d":5.2,"t":-9.3},{"k":"Theory","d":5.4,"t":-10.3},{"k":"Theory","d":5.6,"t":-11.4},{"k":"Theory","d":5.8,"t":-12.7},{"k":"Theory","d":6.0,"t":-14.0},{"k":"Theory","d":6.2,"t":-15.4},{"k":"Theory","d":6.4,"t":-16.9},{"k":"Theory","d":6.6,"t":-18.6},{"k":"Theory","d":6.8,"t":-20.6},{"k":"Theory","d":7.0,"t":-22.9},{"k":"Theory","d":7.2,"t":-25.3}
]
},
"hconcat": [
 {
  "width": 500, "height": 288,
  "data": {"name": "spec"},
  "title": {"text": "a", "anchor": "start", "frame": "group", "orient": "top", "offset": 0, "baseline": "alphabetic", "dx": -74, "dy": 49},
  "layer": [
   {
    "mark": {"type": "line", "strokeWidth": 2.5, "clip": true, "strokeJoin": "round"},
    "encoding": {
     "x": {"field": "x", "type": "quantitative", "scale": {"domain": [1537.8, 1598.2], "nice": false, "zero": false},
       "axis": {"orient": "bottom", "values": [1540,1550,1560,1570,1580,1590], "format": "d", "title": "Wavelength (nm)", "labelPadding": 20, "titlePadding": 10, "titleX": 234}},
     "y": {"field": "y", "type": "quantitative", "scale": {"domain": [-25, 0], "nice": false, "zero": false},
       "axis": {"orient": "left", "values": [-25,-20,-15,-10,-5,0], "title": "Transmission (dB)", "labelPadding": 13, "titlePadding": 18, "titleY": 150, "labelExpr": "replace(datum.label, '\u2212', '-')"}},
     "color": {"field": "s", "type": "nominal", "legend": null, "scale": {"domain": [1,2,3,4,5], "range": ["#F68F46", "#E1596C", "#C53C93", "#9A1AB6", "#5510AA"]}}
    }
   },
   {
    "mark": {"type": "line", "opacity": 0},
    "encoding": {
     "x": {"field": "x", "type": "quantitative", "scale": {"domain": [1537.8, 1598.2], "nice": false, "zero": false},
       "axis": {"orient": "top", "values": [1540,1550,1560,1570,1580,1590], "labels": false, "title": null}},
     "y": {"field": "y", "type": "quantitative", "scale": {"domain": [-25, 0], "nice": false, "zero": false},
       "axis": {"orient": "right", "values": [-25,-20,-15,-10,-5,0], "labels": false, "title": null}}
    }
   }
  ],
  "resolve": {"axis": {"x": "independent", "y": "independent"}}
 },
 {
  "vconcat": [
   {"width": 264, "height": 6, "data": {"values": []}, "mark": {"type": "point", "opacity": 0}, "encoding": {}, "view": {"stroke": null}},
   {
    "width": 264, "height": 282,
    "data": {"name": "flt"},
    "title": {"text": "b", "anchor": "start", "frame": "group", "orient": "top", "offset": 0, "baseline": "alphabetic", "dx": -85, "dy": 38},
    "layer": [
     {
      "mark": {"type": "line", "clip": true, "strokeJoin": "round"},
      "encoding": {
       "x": {"field": "d", "type": "quantitative", "scale": {"domain": [-10, 10], "nice": false, "zero": false},
         "axis": {"orient": "bottom", "values": [-10,0,10], "title": "Δλ (nm)", "labelPadding": 20, "titlePadding": 10, "labelExpr": "replace(datum.label, '\u2212', '-')"}},
       "y": {"field": "t", "type": "quantitative", "scale": {"domain": [-24.4, 0.3], "nice": false, "zero": false},
         "axis": {"orient": "left", "values": [-20,-10,0], "title": "Transmission (dB)", "labelPadding": 20, "titlePadding": 22, "titleY": 131, "labelExpr": "replace(datum.label, '\u2212', '-')"}},
       "color": {"field": "k", "type": "nominal", "scale": {"domain": ["Measure", "Theory"], "range": ["#AAAAAA", "#1A1A1A"]},
         "legend": {"orient": "none", "legendX": 76, "legendY": 179, "title": null, "labelFontSize": 20, "labelFont": "Open Sans", "labelColor": "#222222", "symbolType": "stroke", "symbolSize": 576, "rowPadding": 7, "labelOffset": 5}},
       "strokeDash": {"field": "k", "type": "nominal", "scale": {"domain": ["Measure", "Theory"], "range": [[1, 0], [2.5, 3]]}},
       "strokeWidth": {"field": "k", "type": "ordinal", "scale": {"domain": ["Measure", "Theory"], "range": [4, 2.7]}}
      }
     },
     {
      "mark": {"type": "line", "opacity": 0},
      "encoding": {
       "x": {"field": "d", "type": "quantitative", "scale": {"domain": [-10, 10], "nice": false, "zero": false},
         "axis": {"orient": "top", "values": [-10,0,10], "labels": false, "title": null}},
       "y": {"field": "t", "type": "quantitative", "scale": {"domain": [-24.4, 0.3], "nice": false, "zero": false},
         "axis": {"orient": "right", "values": [-20,-10,0], "labels": false, "title": null}}
      }
     }
    ],
    "resolve": {"axis": {"x": "independent", "y": "independent"}}
   }
  ],
  "spacing": 0,
  "bounds": "flush",
  "resolve": {"scale": {"color": "independent", "strokeDash": "independent", "strokeWidth": "independent"}}
 }
],
"spacing": 145,
"bounds": "flush",
"resolve": {"scale": {"color": "independent", "strokeDash": "independent", "strokeWidth": "independent"}, "legend": {"color": "independent", "strokeDash": "independent", "strokeWidth": "independent"}}
}
